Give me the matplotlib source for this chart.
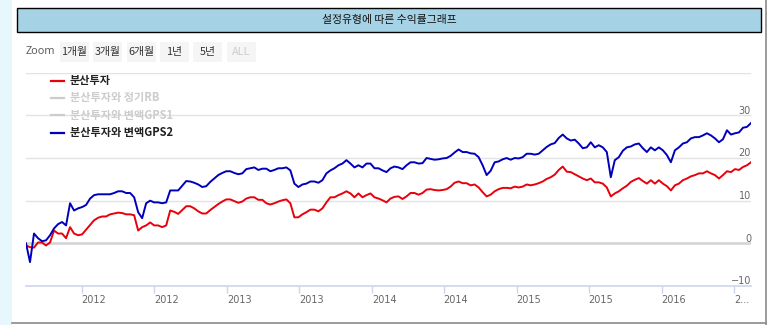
import matplotlib
matplotlib.use("Agg")
import matplotlib.pyplot as plt
import matplotlib.transforms as mtransforms
from matplotlib.patches import Rectangle
import pandas as pd

plt.rcParams['font.family'] = ['Noto Sans CJK KR', 'DejaVu Sans']

# ---- data -------------------------------------------------------------
start_date = "2011-08-14"
end_date = "2016-08-13"

# 분산투자 (cumulative return, %)
dist_only = [
    -0.5, -0.9, -1.0, 0.2, 0.2, -0.5, 0.2, 3.0, 2.3, 2.3,
    1.2, 3.8, 2.3, 1.9, 2.1, 3.2, 4.3, 5.4, 6.0, 6.3,
    6.3, 6.8, 7.0, 7.2, 7.1, 6.8, 6.8, 6.6, 3.0, 3.8,
    4.2, 4.9, 4.2, 4.2, 3.8, 4.2, 7.7, 7.4, 6.9, 7.8,
    8.7, 8.7, 8.2, 7.5, 7.0, 7.0, 7.8, 8.5, 9.2, 9.8,
    10.3, 10.3, 9.9, 9.5, 9.8, 10.5, 10.8, 10.8, 10.2, 10.2,
    9.4, 9.1, 9.4, 9.8, 10.1, 10.3, 9.4, 6.1, 6.1, 6.8,
    7.3, 7.9, 7.9, 7.5, 8.2, 9.6, 10.8, 10.8, 11.3, 11.7,
    12.2, 11.7, 10.8, 11.7, 10.8, 11.3, 11.7, 10.8, 10.5, 10.1,
    9.6, 10.5, 10.9, 11.0, 10.4, 11.0, 11.8, 11.8, 11.4, 11.8,
    12.6, 12.7, 12.5, 12.4, 12.5, 12.7, 13.3, 14.2, 14.5, 14.1,
    14.1, 13.6, 13.8, 13.1, 12.0, 11.0, 11.4, 12.2, 12.7, 13.0,
    13.0, 12.9, 13.3, 13.1, 13.3, 13.8, 13.6, 13.8, 14.1, 14.5,
    15.1, 15.5, 16.1, 17.2, 18.0, 16.8, 16.7, 16.2, 15.7, 15.2,
    14.8, 15.2, 14.3, 14.3, 14.0, 13.1, 11.0, 11.7, 12.2, 12.9,
    13.5, 14.4, 14.9, 15.3, 14.6, 14.0, 14.8, 14.0, 14.8, 14.0,
    13.4, 12.4, 13.6, 14.0, 14.8, 15.2, 15.7, 16.0, 16.4, 16.4,
    16.9, 16.4, 16.0, 15.2, 16.0, 16.9, 16.7, 17.4, 17.2, 17.9,
    18.3, 19.0,
]

# 분산투자와 변액GPS2 (cumulative return, %)
dist_gps2 = [
    0.0, -4.4, 2.3, 1.2, 0.5, 0.7, 1.9, 3.5, 4.5, 5.0,
    4.2, 9.4, 7.7, 8.2, 8.5, 9.0, 10.5, 11.3, 11.5, 11.5,
    11.5, 11.5, 11.8, 12.2, 12.2, 11.8, 11.8, 10.8, 7.3, 5.9,
    9.4, 10.0, 9.6, 9.6, 9.4, 9.6, 12.4, 12.4, 12.4, 13.5,
    14.6, 14.5, 14.2, 13.8, 13.2, 13.4, 14.4, 15.2, 16.0, 16.5,
    16.9, 16.9, 16.5, 16.2, 16.4, 17.4, 17.6, 17.8, 17.2, 17.5,
    17.5, 16.9, 17.2, 17.6, 17.6, 17.8, 17.1, 14.0, 13.2, 13.8,
    14.0, 14.5, 14.5, 14.2, 14.8, 16.4, 17.1, 17.6, 18.3, 18.7,
    19.5, 18.7, 17.8, 18.3, 17.8, 18.7, 18.7, 17.6, 17.6, 17.1,
    16.7, 17.6, 18.0, 17.8, 17.4, 18.3, 19.0, 19.0, 18.7, 18.8,
    20.0, 19.8, 19.6, 19.7, 19.9, 20.0, 20.5, 21.3, 22.0, 21.4,
    21.4, 21.1, 21.0, 20.2, 18.3, 16.0, 17.0, 19.0, 19.2, 19.7,
    20.0, 19.6, 20.0, 19.9, 20.2, 21.0, 21.0, 20.8, 21.0, 21.8,
    22.6, 23.2, 23.5, 24.7, 25.5, 24.6, 24.1, 24.3, 23.4, 22.3,
    22.5, 23.7, 22.5, 23.0, 22.5, 21.4, 15.5, 19.5, 20.2, 21.7,
    22.5, 22.7, 23.2, 23.4, 22.3, 21.4, 22.5, 21.8, 22.5, 21.8,
    20.7, 19.0, 21.8, 22.5, 23.4, 23.7, 24.6, 24.9, 24.9, 25.3,
    25.8, 25.3, 24.6, 23.7, 24.4, 26.5, 25.5, 25.8, 26.0, 27.1,
    27.3, 28.2,
]

series_names = ["분산투자", "분산투자와 정기RB", "분산투자와 변액GPS1", "분산투자와 변액GPS2"]
series_visible = [True, False, False, True]
series_colors = ["#e8000b", "#cccccc", "#cccccc", "#0000bb"]

zoom_buttons = ["1개월", "3개월", "6개월", "1년", "5년", "ALL"]

y_ticks = [-10, 0, 10, 20, 30]
y_grid = [-10, 0, 10, 20, 30, 40]
x_tick_dates = ["2012-01-01", "2012-07-01", "2013-01-01", "2013-07-01", "2014-01-01",
                "2014-07-01", "2015-01-01", "2015-07-01", "2016-01-01", "2016-07-01"]
x_tick_labels = ["2012", "2012", "2013", "2013", "2014", "2014", "2015", "2015", "2016", "2..."]

title = "설정유형에 따른 수익률그래프"

dates = pd.date_range(start_date, end_date, periods=len(dist_gps2))
assert len(dist_only) == len(dist_gps2)

# ---- figure -------------------------------------------------------------
W, H = 769, 325
fig = plt.figure(figsize=(W / 100, H / 100), dpi=100)
fig.patch.set_facecolor("white")


def fx(px):
    return px / W


def fy(py):
    return 1 - py / H


# page margin strip and panel border
fig.add_artist(Rectangle((0, 0), fx(12), 1, transform=fig.transFigure,
                         facecolor="#e6f8fc", edgecolor="none", zorder=0))
fig.add_artist(plt.Line2D([fx(766), fx(766)], [fy(325), fy(0)], transform=fig.transFigure,
                          color="#8a8a8a", lw=1.2))
fig.add_artist(plt.Line2D([fx(12), fx(766)], [fy(323), fy(323)], transform=fig.transFigure,
                          color="#8a8a8a", lw=1.2))

# title bar
fig.add_artist(Rectangle((fx(17), fy(32)), fx(761) - fx(17), fy(8) - fy(32),
                         transform=fig.transFigure, facecolor="#a6d2e6",
                         edgecolor="black", lw=1.0))
fig.text(fx(389), fy(20), title, ha="center", va="center", fontsize=7.8, color="#111111")

# zoom selector row
fig.text(fx(26), fy(52), "Zoom", ha="left", va="center", fontsize=7.8, color="#555555",
         family=["Open Sans", "DejaVu Sans"])
btn_left = [60, 93, 127, 160, 193, 227]
for left, label in zip(btn_left, zoom_buttons):
    fig.add_artist(Rectangle((fx(left), fy(62)), fx(29), fy(42) - fy(62),
                             transform=fig.transFigure, facecolor="#f5f5f5",
                             edgecolor="none"))
    fig.text(fx(left + 14.5), fy(52), label, ha="center", va="center", fontsize=7.8,
             color="#cccccc" if label == "ALL" else "#333333")

# plot area
y_lo, y_hi = -10, 40
ax = fig.add_axes([fx(26), fy(286), fx(751) - fx(26), fy(72.7) - fy(286)])
ax.set_ylim(y_lo, y_hi)
ax.set_xlim(dates[0], dates[-1])
for s in ax.spines.values():
    s.set_visible(False)
ax.set_yticks([])
ax.set_facecolor("none")

for g in y_grid:
    if g == y_lo:
        continue
    ax.axhline(g, color="#e3e3e3" if g != 0 else "#d6d6d6",
               lw=1.0 if g != 0 else 2.0, zorder=1)
ax.axhline(y_lo, color="#ccd6eb", lw=1.2, zorder=1, clip_on=False)

trans_y = mtransforms.blended_transform_factory(ax.transAxes, ax.transData)
for t in y_ticks:
    ax.text(1.0, t + 1.1, str(t).replace("-", "\u2212"), transform=trans_y,
            ha="right", va="center", fontsize=7, color="#666666",
            family=["DejaVu Sans"])

tick_dates = pd.to_datetime(x_tick_dates)
ax.set_xticks(tick_dates)
ax.set_xticklabels([])
ax.tick_params(axis="x", length=5, width=1, color="#ccd6eb", direction="out", pad=2)
trans_x = mtransforms.blended_transform_factory(ax.transData, ax.transAxes)
for d, lab in zip(tick_dates, x_tick_labels):
    ax.text(d, -0.065, lab, transform=trans_x, ha="left", va="center",
            fontsize=7, color="#666666", family=["DejaVu Sans"])

ax.plot(dates, dist_only, color=series_colors[0], lw=1.4, zorder=3)
ax.plot(dates, dist_gps2, color=series_colors[3], lw=1.4, zorder=4)

# legend (hidden series shown greyed out)
leg_y = [80.5, 98, 115, 132.5]
for name, vis, col, py in zip(series_names, series_visible, series_colors, leg_y):
    fig.add_artist(plt.Line2D([fx(51), fx(64)], [fy(py), fy(py)], transform=fig.transFigure,
                              color=col if vis else "#cccccc", lw=1.6))
    fig.text(fx(70), fy(py), name, ha="left", va="center", fontsize=8,
             fontweight="bold", color="#222222" if vis else "#cccccc")

fig.savefig("out.png", dpi=100, facecolor=fig.get_facecolor())
